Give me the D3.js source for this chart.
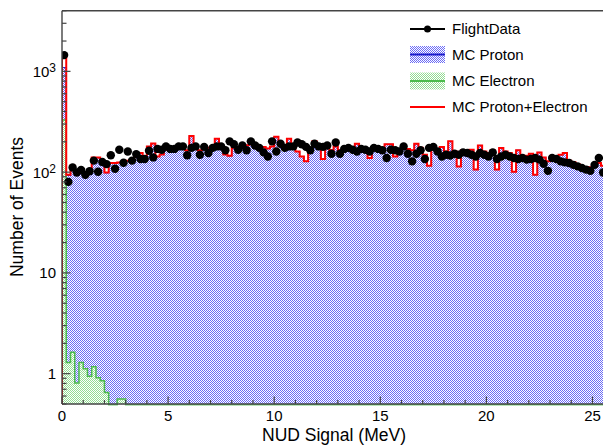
<!DOCTYPE html>
<html><head><meta charset="utf-8">
<script src="https://cdn.jsdelivr.net/npm/d3@7"></script>
<style>html,body{margin:0;padding:0;background:#fff;} svg{display:block;font-family:"Liberation Sans",Arial,sans-serif;}</style>
</head><body><svg id="c" width="603" height="445"></svg>
<script>
// ---------------- data ----------------
const binWidth = 0.2;               // MeV per bin
const xDomain = [0, 25.6];
const yDomain = [0.5, 4000];
const xMajorTicks = [0, 5, 10, 15, 20, 25];
const yMajorTicks = [1, 10, 100, 1000];
const yTickLabels = [["1", ""], ["10", ""], ["10", "2"], ["10", "3"]];
const xTitle = "NUD Signal (MeV)";
const yTitle = "Number of Events";
const legendLabels = ["FlightData", "MC Proton", "MC Electron", "MC Proton+Electron"];

const flightData = [1450,
  80,111,99,105,94,102,130,101,126,120,147,108,167,124,160,130,151,135,135,163,140,170,167,180,170,170,180,180,147,174,180,
  149,178,155,174,180,180,165,202,189,167,184,165,202,184,174,157,143,202,160,191,174,180,180,197,189,178,165,191,180,178,184,152,
  197,152,170,174,167,160,170,167,160,174,170,165,138,167,165,160,180,152,128,152,165,135,174,178,160,143,149,146,152,149,157,
  155,149,143,155,149,143,157,135,143,149,143,138,135,138,133,135,138,133,121,103,138,135,128,125,123,118,114,110,106,103,118,138,99];

const mcProton = [1090,
  92.7,114.4,99.2,96.7,98.9,104.1,138.8,139.1,127.2,98.4,123,123,124.4,124.4,130,128,155,155,140,180,192,143,150,167,167,170,170,172,165,228,180,
  165,170,175,180,215,175,150,145,175,170,180,185,189,180,175,178,172,180,224,185,178,215,175,160,143,128,170,202,180,135,175,165,
  180,165,170,170,172,191,170,165,138,170,165,168,189,189,143,160,175,170,165,191,175,149,116,175,165,178,160,202,160,114,165,
  160,167,106,184,160,155,165,106,174,160,155,101,165,143,145,152,94,157,140,128,138,143,149,155,130,125,120,115,110,112,118,123,116];

const mcElectron = [330,
  1.29,1.63,0.81,1.29,1.12,0.94,1.17,0.91,0.85,0.65,0,0,0.56,0.56,0,0,0,0,0,0,0,0,0,0,0,0,0,0,0,0,0,
  0,0,0,0,0,0,0,0,0,0,0,0,0,0,0,0,0,0,0,0,0,0,0,0,0,0,0,0,0,0,0,0,
  0,0,0,0,0,0,0,0,0,0,0,0,0,0,0,0,0,0,0,0,0,0,0,0,0,0,0,0,0,0,0,
  0,0,0,0,0,0,0,0,0,0,0,0,0,0,0,0,0,0,0,0,0,0,0,0,0,0,0,0,0,0,0,0,0];

// ---------------- layout ----------------
const plotL = 62, plotT = 10.7, plotB = 404, plotR = 605.2;
const svg = d3.select("#c");
const x = d3.scaleLinear().domain(xDomain).range([plotL, plotR]);
const y = d3.scaleLog().domain(yDomain).range([plotB, plotT]);
const yc = v => (v > yDomain[0] ? y(v) : plotB + 1);

const defs = svg.append("defs");
function checker(id, color) {
  const p = defs.append("pattern").attr("id", id).attr("patternUnits", "userSpaceOnUse")
    .attr("width", 2).attr("height", 2);
  p.append("rect").attr("width", 2).attr("height", 2).attr("fill", "#fff");
  p.append("rect").attr("x", 0).attr("y", 0).attr("width", 1).attr("height", 1).attr("fill", color);
  p.append("rect").attr("x", 1).attr("y", 1).attr("width", 1).attr("height", 1).attr("fill", color);
}
checker("pBlue", "#6c6cf6");
checker("pGreen", "#93dc93");
defs.append("clipPath").attr("id", "clip").append("rect")
  .attr("x", plotL).attr("y", plotT).attr("width", 603 - plotL).attr("height", plotB - plotT + 1.5);

function histPoints(vals) {
  const pts = [[0, null]];
  vals.forEach((v, i) => pts.push([i * binWidth, v]));
  pts.push([vals.length * binWidth, vals[vals.length - 1]]);
  pts.push([vals.length * binWidth, null]);
  return pts;
}
const stepLine = d3.line().curve(d3.curveStepAfter)
  .x(d => x(d[0])).y(d => d[1] === null ? plotB + 1 : yc(d[1]));
const stepArea = d3.area().curve(d3.curveStepAfter)
  .x(d => x(d[0])).y0(plotB).y1(d => d[1] === null ? plotB : yc(d[1]));

const mcSum = mcProton.map((v, i) => v + mcElectron[i]);
const g = svg.append("g").attr("clip-path", "url(#clip)");

g.append("path").attr("d", stepArea(histPoints(mcProton))).attr("fill", "url(#pBlue)");
g.append("path").attr("d", stepLine(histPoints(mcProton))).attr("fill", "none").attr("stroke", "#1a1acc").attr("stroke-width", 1);
g.append("path").attr("d", stepArea(histPoints(mcElectron))).attr("fill", "url(#pGreen)");

// frame + ticks
const axisColor = "#444";
svg.append("line").attr("x1", plotL).attr("x2", 603).attr("y1", plotT).attr("y2", plotT).attr("stroke", axisColor).attr("stroke-width", 1.4);
svg.append("line").attr("x1", plotL).attr("x2", 603).attr("y1", plotB).attr("y2", plotB).attr("stroke", axisColor).attr("stroke-width", 1.4);
svg.append("line").attr("x1", plotL).attr("x2", plotL).attr("y1", plotT).attr("y2", plotB).attr("stroke", axisColor).attr("stroke-width", 1.4);

const xMinor = d3.range(0, 26, 1);
svg.selectAll(".xt").data(xMinor).join("line")
  .attr("x1", d => x(d)).attr("x2", d => x(d))
  .attr("y1", plotB).attr("y2", d => plotB - (d % 5 === 0 ? 7.5 : 4))
  .attr("stroke", axisColor).attr("stroke-width", 1.2);
const yTicksAll = y.ticks().filter(v => v >= yDomain[0] && v <= yDomain[1]);
svg.selectAll(".yt").data(yTicksAll).join("line")
  .attr("x1", plotL).attr("x2", d => plotL + (yMajorTicks.includes(d) ? 8.5 : 4.5))
  .attr("y1", d => y(d)).attr("y2", d => y(d))
  .attr("stroke", axisColor).attr("stroke-width", 1.2);

// electron outline, sum outline, data markers
g.append("path").attr("d", stepLine(histPoints(mcElectron))).attr("fill", "none").attr("stroke", "#4cbb4c").attr("stroke-width", 1.5);
g.append("path").attr("d", stepLine(histPoints(mcSum))).attr("fill", "none").attr("stroke", "#ff0000").attr("stroke-width", 2);
g.selectAll(".pt").data(flightData).join("circle")
  .attr("cx", (d, i) => x((i + 0.5) * binWidth)).attr("cy", d => y(d)).attr("r", 4.2).attr("fill", "#000");

// tick labels
svg.selectAll(".xl").data(xMajorTicks).join("text")
  .attr("x", d => x(d)).attr("y", 421).attr("text-anchor", "middle")
  .attr("font-size", 15).attr("fill", "#000").text(d => d);
yMajorTicks.forEach((v, i) => {
  const t = svg.append("text").attr("x", 56).attr("y", y(v)).attr("dy", "0.36em")
    .attr("text-anchor", "end").attr("font-size", 15).attr("fill", "#000");
  t.append("tspan").text(yTickLabels[i][0]);
  if (yTickLabels[i][1]) t.append("tspan").attr("dy", -4.5).attr("font-size", 12).text(yTickLabels[i][1]);
});

// titles
svg.append("text").attr("x", 334).attr("y", 441).attr("text-anchor", "middle")
  .attr("font-size", 17.5).attr("fill", "#000").text(xTitle);
svg.append("text").attr("transform", "translate(23,207) rotate(-90)").attr("text-anchor", "middle")
  .attr("font-size", 17.5).attr("fill", "#000").text(yTitle);

// legend
const lx0 = 410, lx1 = 445, ltx = 452, rows = [29, 54.5, 81, 107];
const lg = svg.append("g");
lg.append("line").attr("x1", lx0).attr("x2", lx1).attr("y1", rows[0]).attr("y2", rows[0]).attr("stroke", "#000").attr("stroke-width", 2);
lg.append("circle").attr("cx", (lx0 + lx1) / 2).attr("cy", rows[0]).attr("r", 3.5).attr("fill", "#000");
lg.append("rect").attr("x", lx0).attr("y", rows[1] - 8.5).attr("width", lx1 - lx0).attr("height", 17).attr("fill", "url(#pBlue)");
lg.append("line").attr("x1", lx0).attr("x2", lx1).attr("y1", rows[1]).attr("y2", rows[1]).attr("stroke", "#1a1acc").attr("stroke-width", 2);
lg.append("rect").attr("x", lx0).attr("y", rows[2] - 8.5).attr("width", lx1 - lx0).attr("height", 17).attr("fill", "url(#pGreen)");
lg.append("line").attr("x1", lx0).attr("x2", lx1).attr("y1", rows[2]).attr("y2", rows[2]).attr("stroke", "#4cbb4c").attr("stroke-width", 2);
lg.append("line").attr("x1", lx0).attr("x2", lx1).attr("y1", rows[3]).attr("y2", rows[3]).attr("stroke", "#ff0000").attr("stroke-width", 2);
lg.selectAll("text").data(legendLabels).join("text")
  .attr("x", ltx).attr("y", (d, i) => rows[i]).attr("dy", "0.36em")
  .attr("font-size", 15).attr("fill", "#000").text(d => d);
</script></body></html>
